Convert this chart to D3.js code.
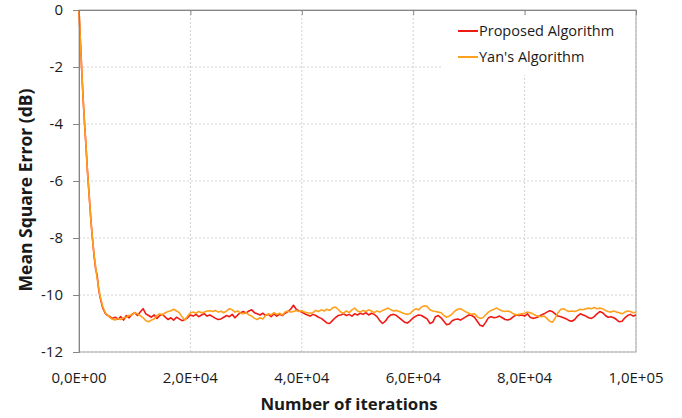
<!DOCTYPE html>
<html><head><meta charset="utf-8">
<script src="https://cdn.jsdelivr.net/npm/d3@7"></script>
<style>body{margin:0;background:#fff}svg{display:block}text{font-family:"Open Sans",sans-serif}</style>
</head><body><svg id="c" width="682" height="418"></svg>
<script>
const seriesNames = ["Proposed Algorithm", "Yan's Algorithm"];
const decayIter = [0,250,500,750,1000,1250,1500,1750,2000,2250,2500,2750,3000,3250,3500,3750,4000,4250,4500,4750];
const decayProposed = [0,-1.1,-2.15,-3.15,-4.0,-4.75,-5.6,-6.3,-7.0,-7.65,-8.2,-8.7,-9.1,-9.3,-9.75,-10.05,-10.25,-10.45,-10.55,-10.65];
const decayYan      = [0,-1.1,-2.15,-3.15,-4.0,-4.75,-5.6,-6.3,-7.0,-7.65,-8.2,-8.65,-9.05,-9.4,-9.7,-10.0,-10.2,-10.4,-10.52,-10.62];
// steady state, every 500 iterations from 5000 to 100000
const steadyStart = 5000, steadyStep = 500;
const steadyProposed = [
-10.70,-10.75,-10.82,-10.78,-10.85,-10.76,-10.88,-10.72,-10.80,-10.68,
-10.62,-10.72,-10.60,-10.48,-10.66,-10.72,-10.78,-10.70,-10.82,-10.72,
-10.68,-10.78,-10.86,-10.80,-10.88,-10.78,-10.84,-10.90,-10.86,-10.80,
-10.70,-10.74,-10.68,-10.76,-10.70,-10.66,-10.74,-10.70,-10.76,-10.82,
-10.86,-10.84,-10.78,-10.72,-10.76,-10.68,-10.80,-10.70,-10.62,-10.58,
-10.64,-10.56,-10.52,-10.62,-10.66,-10.70,-10.64,-10.72,-10.68,-10.76,
-10.66,-10.74,-10.68,-10.72,-10.64,-10.58,-10.50,-10.36,-10.50,-10.56,
-10.60,-10.66,-10.70,-10.74,-10.68,-10.72,-10.78,-10.82,-10.90,-10.98,
-11.00,-10.90,-10.80,-10.72,-10.70,-10.66,-10.72,-10.68,-10.74,-10.66,
-10.70,-10.64,-10.68,-10.62,-10.70,-10.64,-10.68,-10.76,-10.90,-11.00,
-10.92,-10.78,-10.70,-10.68,-10.72,-10.80,-10.88,-10.96,-10.98,-10.90,
-10.80,-10.74,-10.70,-10.72,-10.78,-10.84,-11.00,-10.96,-10.76,-10.72,
-10.80,-10.92,-11.04,-11.02,-10.90,-10.86,-10.84,-10.88,-10.82,-10.76,
-10.70,-10.72,-10.78,-10.92,-11.06,-11.10,-10.96,-10.80,-10.76,-10.80,
-10.78,-10.74,-10.80,-10.86,-10.88,-10.84,-10.76,-10.70,-10.72,-10.70,
-10.74,-10.66,-10.78,-10.82,-10.80,-10.76,-10.70,-10.66,-10.60,-10.55,
-10.58,-10.66,-10.74,-10.76,-10.80,-10.84,-10.90,-10.92,-10.86,-10.74,
-10.66,-10.70,-10.74,-10.80,-10.82,-10.76,-10.66,-10.58,-10.62,-10.72,
-10.78,-10.76,-10.80,-10.86,-10.94,-10.92,-10.80,-10.72,-10.68,-10.74,
-10.70];
const steadyYan = [
-10.68,-10.78,-10.85,-10.88,-10.82,-10.86,-10.80,-10.78,-10.72,-10.70,
-10.62,-10.66,-10.72,-10.80,-10.90,-10.94,-10.88,-10.84,-10.72,-10.66,
-10.70,-10.62,-10.58,-10.55,-10.50,-10.56,-10.62,-10.76,-10.88,-10.74,
-10.62,-10.60,-10.64,-10.58,-10.62,-10.60,-10.56,-10.55,-10.58,-10.54,
-10.60,-10.57,-10.62,-10.56,-10.48,-10.52,-10.60,-10.56,-10.64,-10.66,
-10.62,-10.70,-10.74,-10.82,-10.86,-10.80,-10.84,-10.72,-10.66,-10.70,
-10.62,-10.68,-10.64,-10.70,-10.60,-10.56,-10.60,-10.58,-10.54,-10.58,
-10.55,-10.60,-10.62,-10.64,-10.62,-10.54,-10.58,-10.52,-10.56,-10.50,
-10.54,-10.46,-10.42,-10.50,-10.60,-10.64,-10.56,-10.62,-10.52,-10.46,
-10.56,-10.60,-10.54,-10.58,-10.52,-10.56,-10.62,-10.56,-10.60,-10.54,
-10.50,-10.46,-10.52,-10.56,-10.54,-10.58,-10.62,-10.66,-10.68,-10.64,
-10.54,-10.48,-10.52,-10.42,-10.38,-10.40,-10.52,-10.56,-10.58,-10.60,
-10.62,-10.72,-10.78,-10.74,-10.66,-10.56,-10.50,-10.48,-10.54,-10.60,
-10.64,-10.68,-10.66,-10.76,-10.82,-10.80,-10.70,-10.60,-10.54,-10.50,
-10.46,-10.52,-10.56,-10.58,-10.56,-10.60,-10.66,-10.70,-10.68,-10.66,
-10.64,-10.60,-10.62,-10.66,-10.72,-10.74,-10.76,-10.74,-10.82,-10.92,
-10.96,-10.80,-10.62,-10.50,-10.48,-10.54,-10.58,-10.56,-10.58,-10.54,
-10.50,-10.52,-10.48,-10.46,-10.48,-10.44,-10.48,-10.46,-10.48,-10.54,
-10.58,-10.60,-10.56,-10.60,-10.62,-10.66,-10.60,-10.56,-10.58,-10.62,
-10.60];
const xTickValues = [0,20000,40000,60000,80000,100000];
const xTickLabels = ["0,0E+00","2,0E+04","4,0E+04","6,0E+04","8,0E+04","1,0E+05"];
const yTickValues = [0,-2,-4,-6,-8,-10,-12];
const xTitle = "Number of iterations";
const yTitle = "Mean Square Error (dB)";
const colors = ["#f01a14", "#ffa11c"];

const steadyIter = steadyProposed.map((_, i) => steadyStart + i * steadyStep);
const iters = decayIter.concat(steadyIter);
const series = [decayProposed.concat(steadyProposed), decayYan.concat(steadyYan)]
  .map((vals, s) => ({name: seriesNames[s], color: colors[s], pts: vals.map((v, i) => [iters[i], v])}));

const L = 79, R = 636, T = 10, B = 352;
const svg = d3.select("#c");
const x = d3.scaleLinear().domain([0, 100000]).range([L, R]);
const y = d3.scaleLinear().domain([-12, 0]).range([B, T]);

// gridlines
const g = svg.append("g");
g.selectAll(".hg").data(yTickValues.slice(1)).join("line")
  .attr("x1", L).attr("x2", R).attr("y1", d => y(d)).attr("y2", d => y(d))
  .attr("stroke", "#d2d2d2").attr("stroke-dasharray", "2,2");
g.selectAll(".vg").data(xTickValues.slice(1)).join("line")
  .attr("y1", T).attr("y2", B).attr("x1", d => x(d)).attr("x2", d => x(d))
  .attr("stroke", "#d2d2d2").attr("stroke-dasharray", "2,2");

// plot border
svg.append("rect").attr("x", L).attr("y", T).attr("width", R - L).attr("height", B - T)
  .attr("fill", "none").attr("stroke", "#a6a6a6");

// lines (Yan drawn on top)
const line = d3.line().x(d => x(d[0])).y(d => y(d[1]));
svg.selectAll(".ser").data(series).join("path")
  .attr("d", d => line(d.pts)).attr("fill", "none")
  .attr("stroke", d => d.color).attr("stroke-width", 1.6).attr("stroke-linejoin", "round");

// y axis
const yAxis = d3.axisLeft(y).tickValues(yTickValues).tickSize(6).tickPadding(10).tickFormat(d => String(d));
const ya = svg.append("g").attr("transform", `translate(${L},0)`).call(yAxis);
ya.select(".domain").attr("stroke", "#868686");
ya.selectAll(".tick line").attr("stroke", "#868686");
ya.selectAll("text").attr("font-size", 15).attr("fill", "#1a1a1a").attr("font-family", "Open Sans");

// x axis at y=0 (top) with ticks inside
const xAxis = d3.axisBottom(x).tickValues(xTickValues).tickSize(5).tickFormat(() => "");
const xa = svg.append("g").attr("transform", `translate(0,${T})`).call(xAxis);
xa.select(".domain").attr("stroke", "#868686");
xa.selectAll(".tick line").attr("stroke", "#868686");
// x labels at bottom
svg.selectAll(".xl").data(xTickValues).join("text")
  .attr("x", d => x(d)).attr("y", 383).attr("text-anchor", "middle")
  .attr("font-size", 15).attr("fill", "#1a1a1a").text((d, i) => xTickLabels[i]);

// titles
svg.append("text").attr("x", 349).attr("y", 410).attr("text-anchor", "middle")
  .attr("font-size", 16.8).attr("font-weight", "bold").attr("fill", "#1a1a1a").text(xTitle);
svg.append("text").attr("transform", "translate(32,190) rotate(-90)").attr("text-anchor", "middle")
  .attr("font-size", 17.5).attr("font-weight", "bold").attr("fill", "#1a1a1a").text(yTitle);

// legend
const lg = svg.append("g");
lg.append("rect").attr("x", 441).attr("y", 15).attr("width", 193).attr("height", 60).attr("fill", "#fff");
series.forEach((s, i) => {
  const yy = 31 + i * 26;
  lg.append("line").attr("x1", 458).attr("x2", 478).attr("y1", yy).attr("y2", yy)
    .attr("stroke", s.color).attr("stroke-width", 2);
  lg.append("text").attr("x", 479).attr("y", yy + 5).attr("font-size", 14.5).attr("fill", "#1a1a1a").text(s.name);
});
</script></body></html>
